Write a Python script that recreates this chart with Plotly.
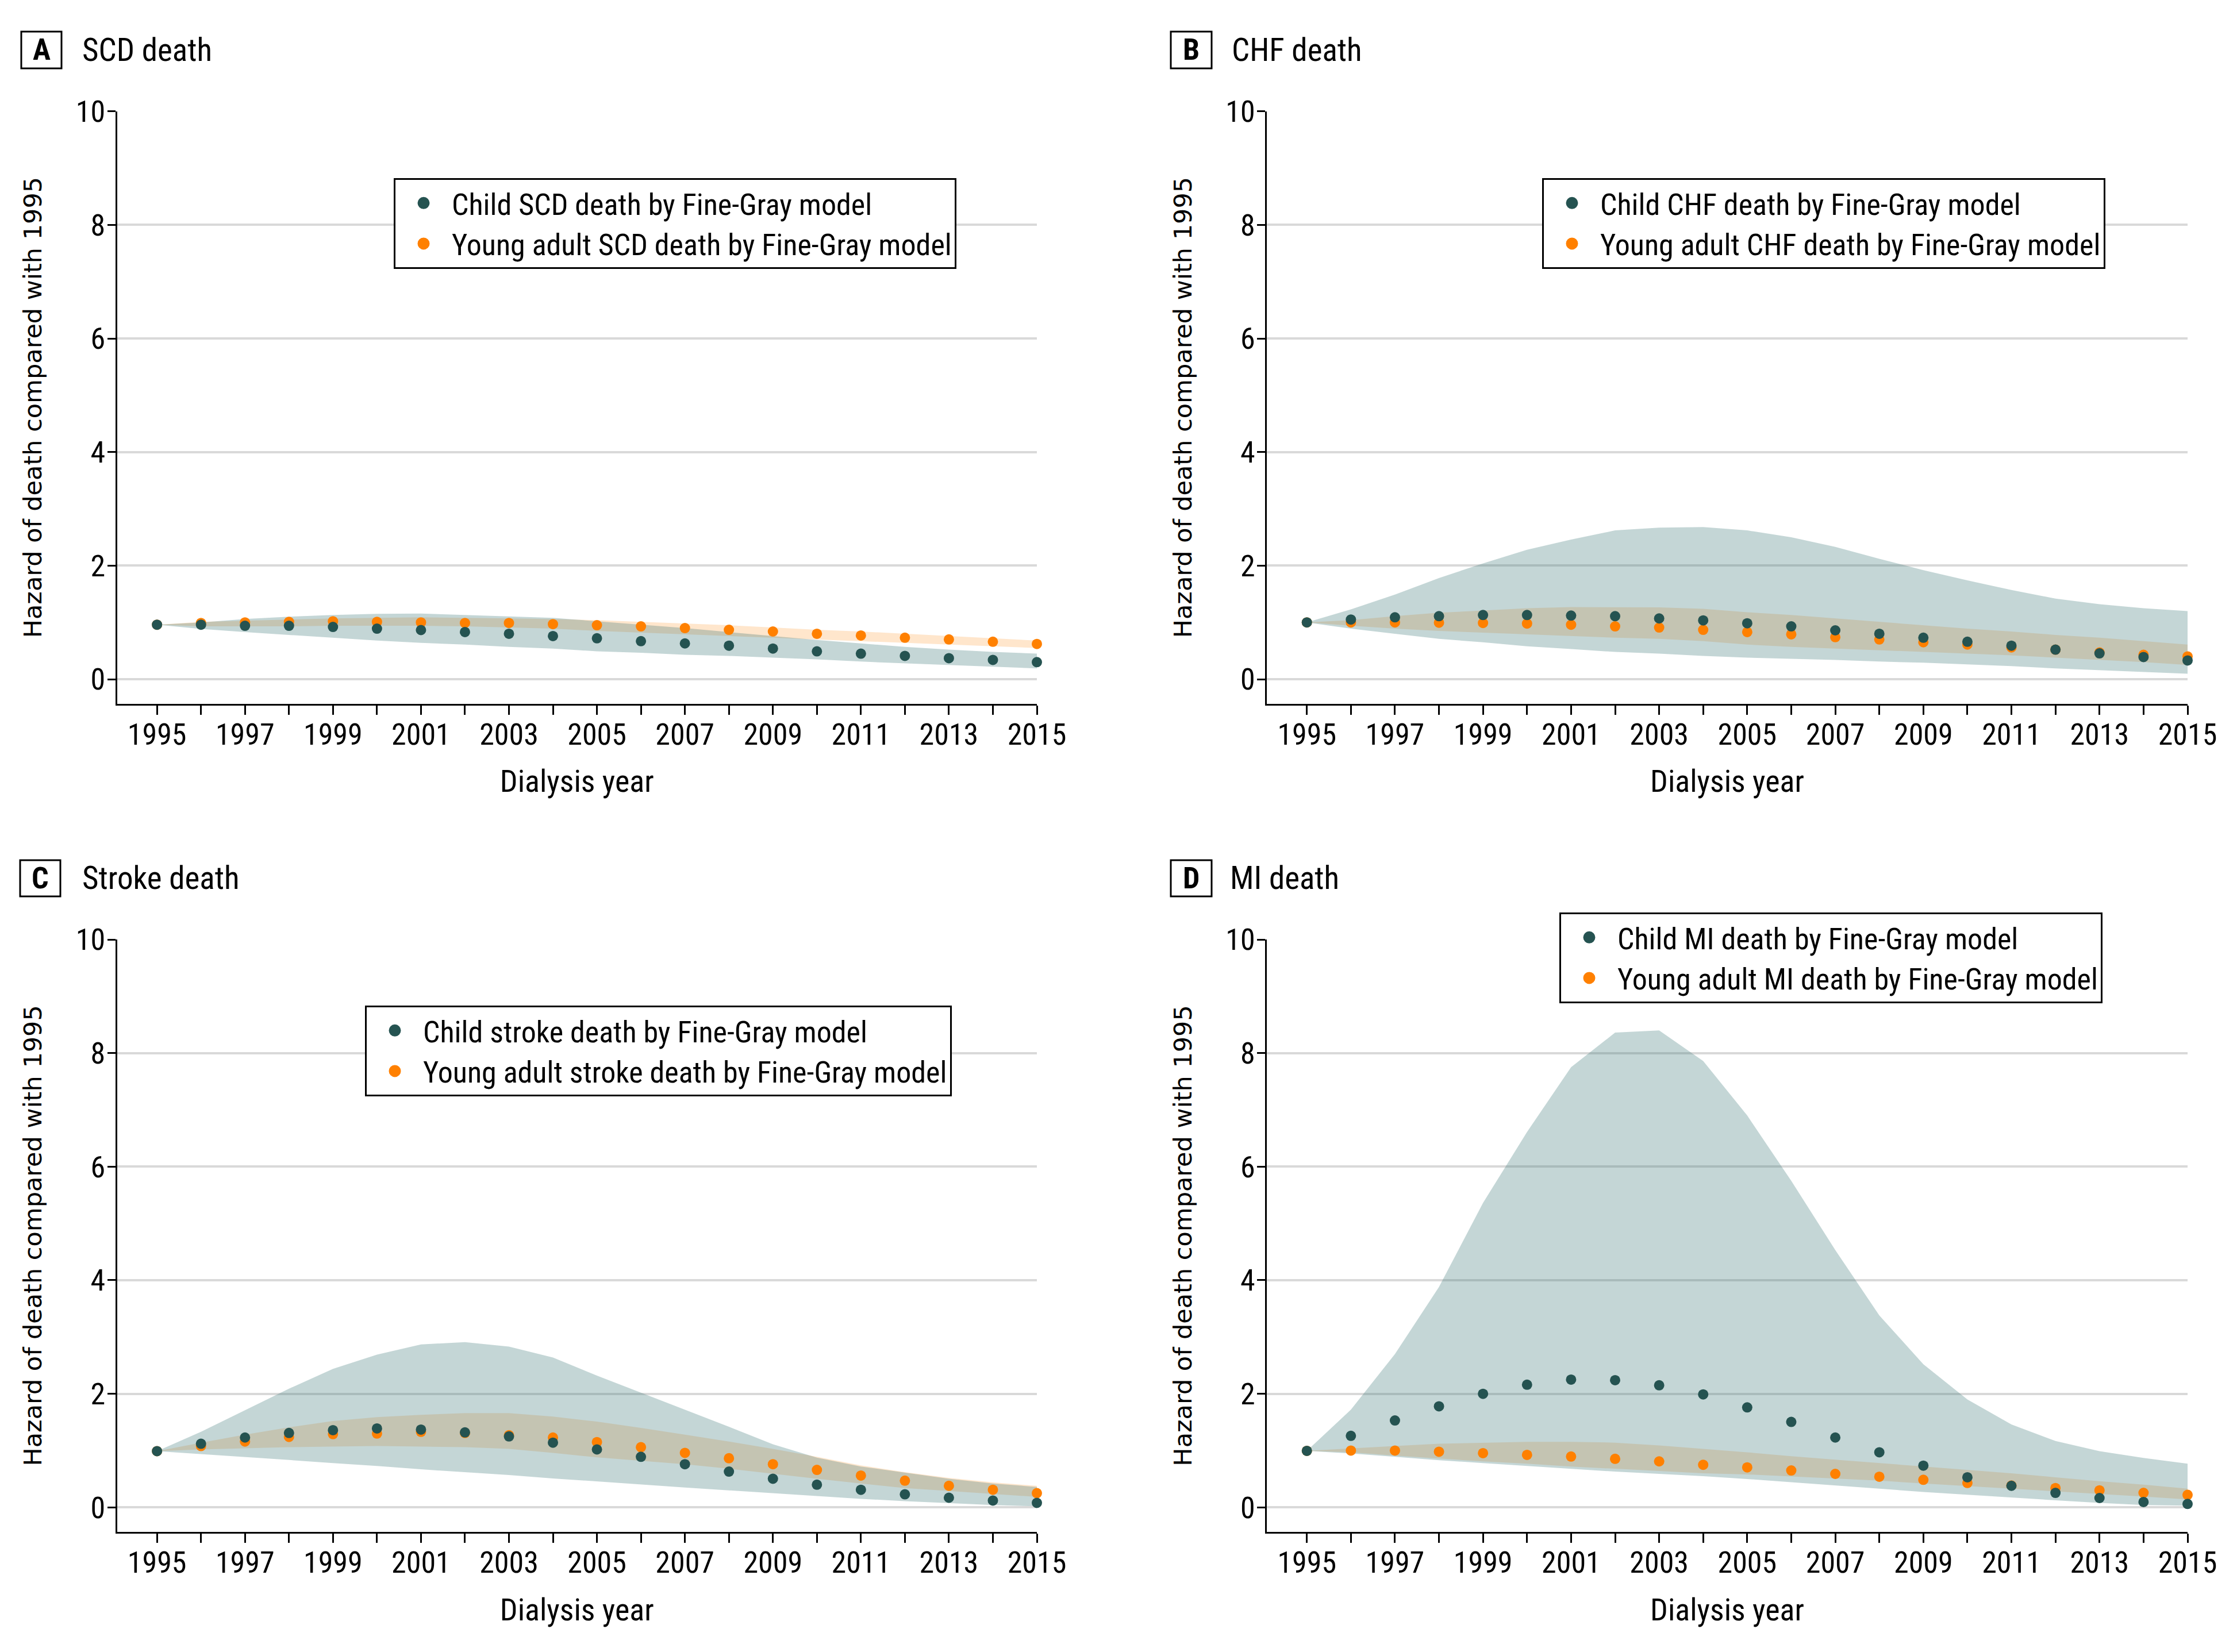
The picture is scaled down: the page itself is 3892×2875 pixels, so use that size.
import plotly.graph_objects as go

# ---------------- data ----------------
years = list(range(1995, 2016))
tick_text = [str(y) if y % 2 == 1 else "" for y in years]

scd_child = [0.96, 0.96, 0.94, 0.94, 0.92, 0.89, 0.865, 0.83, 0.80, 0.76, 0.72, 0.67, 0.63, 0.59, 0.54, 0.49, 0.45, 0.41, 0.37, 0.34, 0.30]
scd_child_lo = [0.96, 0.885, 0.83, 0.78, 0.73, 0.68, 0.64, 0.61, 0.57, 0.54, 0.49, 0.465, 0.43, 0.41, 0.38, 0.35, 0.31, 0.28, 0.25, 0.225, 0.19]
scd_child_hi = [0.96, 1.0, 1.06, 1.10, 1.13, 1.15, 1.155, 1.13, 1.11, 1.08, 1.02, 0.96, 0.90, 0.83, 0.76, 0.69, 0.63, 0.57, 0.52, 0.48, 0.45]
scd_young = [0.96, 0.99, 1.0, 1.01, 1.02, 1.01, 1.0, 0.99, 0.99, 0.97, 0.95, 0.93, 0.90, 0.87, 0.84, 0.80, 0.77, 0.73, 0.70, 0.66, 0.62]
scd_young_lo = [0.96, 0.93, 0.93, 0.93, 0.94, 0.94, 0.94, 0.93, 0.91, 0.89, 0.85, 0.82, 0.79, 0.76, 0.73, 0.70, 0.67, 0.64, 0.61, 0.58, 0.55]
scd_young_hi = [0.96, 1.01, 1.03, 1.05, 1.07, 1.08, 1.09, 1.08, 1.07, 1.06, 1.04, 1.01, 0.98, 0.95, 0.91, 0.87, 0.84, 0.80, 0.76, 0.72, 0.68]

chf_child = [1.00, 1.05, 1.09, 1.11, 1.13, 1.13, 1.12, 1.11, 1.07, 1.035, 0.985, 0.93, 0.86, 0.80, 0.73, 0.66, 0.59, 0.52, 0.455, 0.39, 0.33]
chf_child_lo = [1.00, 0.89, 0.80, 0.71, 0.65, 0.58, 0.53, 0.48, 0.45, 0.41, 0.38, 0.36, 0.34, 0.31, 0.29, 0.26, 0.23, 0.19, 0.16, 0.13, 0.095]
chf_child_hi = [1.00, 1.23, 1.49, 1.78, 2.04, 2.28, 2.46, 2.62, 2.67, 2.68, 2.62, 2.50, 2.33, 2.12, 1.92, 1.74, 1.57, 1.42, 1.32, 1.25, 1.20]
chf_young = [1.00, 1.00, 1.00, 0.995, 0.99, 0.98, 0.96, 0.93, 0.91, 0.87, 0.83, 0.79, 0.74, 0.70, 0.65, 0.61, 0.56, 0.52, 0.47, 0.43, 0.40]
chf_young_lo = [1.00, 0.94, 0.89, 0.85, 0.82, 0.79, 0.76, 0.73, 0.71, 0.67, 0.61, 0.57, 0.54, 0.51, 0.48, 0.45, 0.42, 0.38, 0.34, 0.30, 0.25]
chf_young_hi = [1.00, 1.04, 1.11, 1.17, 1.21, 1.25, 1.27, 1.27, 1.265, 1.24, 1.18, 1.13, 1.07, 1.01, 0.95, 0.89, 0.84, 0.78, 0.73, 0.67, 0.61]

stroke_child = [0.99, 1.12, 1.23, 1.31, 1.36, 1.39, 1.37, 1.32, 1.25, 1.14, 1.02, 0.89, 0.76, 0.63, 0.505, 0.40, 0.31, 0.23, 0.17, 0.12, 0.08]
stroke_child_lo = [0.99, 0.94, 0.89, 0.835, 0.78, 0.73, 0.67, 0.62, 0.57, 0.51, 0.455, 0.40, 0.35, 0.30, 0.25, 0.20, 0.15, 0.11, 0.075, 0.04, 0.02]
stroke_child_hi = [0.99, 1.33, 1.71, 2.09, 2.44, 2.69, 2.87, 2.91, 2.83, 2.64, 2.32, 2.02, 1.72, 1.42, 1.11, 0.875, 0.72, 0.61, 0.505, 0.42, 0.36]
stroke_young = [0.99, 1.08, 1.16, 1.24, 1.29, 1.30, 1.33, 1.31, 1.27, 1.23, 1.15, 1.06, 0.96, 0.865, 0.76, 0.66, 0.56, 0.47, 0.38, 0.31, 0.25]
stroke_young_lo = [0.99, 1.02, 1.04, 1.06, 1.07, 1.08, 1.07, 1.06, 1.03, 0.96, 0.88, 0.82, 0.76, 0.68, 0.59, 0.505, 0.42, 0.34, 0.29, 0.24, 0.185]
stroke_young_hi = [0.99, 1.14, 1.28, 1.41, 1.52, 1.59, 1.63, 1.66, 1.66, 1.60, 1.51, 1.40, 1.28, 1.16, 1.03, 0.89, 0.74, 0.62, 0.52, 0.44, 0.38]

mi_child = [0.995, 1.26, 1.53, 1.78, 2.00, 2.16, 2.25, 2.24, 2.15, 1.99, 1.76, 1.505, 1.23, 0.97, 0.735, 0.53, 0.38, 0.255, 0.165, 0.095, 0.06]
mi_child_lo = [0.995, 0.95, 0.89, 0.83, 0.78, 0.73, 0.68, 0.63, 0.59, 0.55, 0.50, 0.445, 0.385, 0.33, 0.27, 0.22, 0.17, 0.125, 0.08, 0.04, 0.03]
mi_child_hi = [0.995, 1.72, 2.70, 3.88, 5.36, 6.61, 7.75, 8.36, 8.40, 7.86, 6.90, 5.75, 4.53, 3.38, 2.52, 1.90, 1.46, 1.17, 0.99, 0.87, 0.77]
mi_young = [0.995, 1.00, 1.00, 0.98, 0.955, 0.925, 0.895, 0.855, 0.81, 0.75, 0.705, 0.65, 0.59, 0.54, 0.485, 0.43, 0.385, 0.34, 0.30, 0.255, 0.22]
mi_young_lo = [0.995, 0.97, 0.91, 0.86, 0.81, 0.77, 0.72, 0.68, 0.64, 0.60, 0.58, 0.545, 0.51, 0.47, 0.42, 0.375, 0.33, 0.28, 0.235, 0.19, 0.14]
mi_young_hi = [0.995, 1.04, 1.08, 1.12, 1.14, 1.155, 1.155, 1.14, 1.09, 1.03, 0.97, 0.90, 0.84, 0.78, 0.72, 0.66, 0.60, 0.53, 0.46, 0.40, 0.33]

panel_letters = ["A", "B", "C", "D"]
panel_titles = ["SCD death", "CHF death", "Stroke death", "MI death"]
panel_causes = ["SCD", "CHF", "stroke", "MI"]
y_ticks = [0, 2, 4, 6, 8, 10]

# ---------------- style ----------------
W, H = 3892, 2875
PAGE_OFF = 8  # default body margin of the html page
COND = "Liberation Sans Narrow, Roboto Condensed, Arial Narrow, Liberation Sans, sans-serif"
WIDE = "DejaVu Sans, Verdana, sans-serif"
CHILD_COL = "#255351"
YOUNG_COL = "#FF8000"
CHILD_FILL = "rgba(60,120,120,0.30)"
YOUNG_FILL = "rgba(255,128,0,0.20)"


def px(x):
    return (x - PAGE_OFF) / W


def py(y):
    return 1 - (y - PAGE_OFF) / H


panels = [
    dict(child=scd_child, clo=scd_child_lo, chi=scd_child_hi, young=scd_young, ylo=scd_young_lo, yhi=scd_young_hi,
         xdom=[px(203.5), px(1804)], ydom=[py(1224.5), py(193.7)], leg=(px(685), py(310)), legw=1000,
         box=(37, 55, 107, 119), title_x=141),
    dict(child=chf_child, clo=chf_child_lo, chi=chf_child_hi, young=chf_young, ylo=chf_young_lo, yhi=chf_young_hi,
         xdom=[px(2204), px(3806)], ydom=[py(1224.5), py(193.7)], leg=(px(2683), py(310)), legw=1008,
         box=(2037, 55, 2108, 119), title_x=2141),
    dict(child=stroke_child, clo=stroke_child_lo, chi=stroke_child_hi, young=stroke_young, ylo=stroke_young_lo, yhi=stroke_young_hi,
         xdom=[px(203.5), px(1804)], ydom=[py(2665.8), py(1635)], leg=(px(635), py(1750)), legw=1050,
         box=(35, 1497, 105, 1560), title_x=141),
    dict(child=mi_child, clo=mi_child_lo, chi=mi_child_hi, young=mi_young, ylo=mi_young_lo, yhi=mi_young_hi,
         xdom=[px(2204), px(3806)], ydom=[py(2665.8), py(1635)], leg=(px(2713), py(1588)), legw=978,
         box=(2037, 1497, 2108, 1560), title_x=2138),
]

fig = go.Figure()
layout = dict(width=W, height=H, autosize=False, margin=dict(l=0, r=0, t=0, b=0),
              paper_bgcolor="white", plot_bgcolor="white", shapes=[], annotations=[])

for i, p in enumerate(panels):
    n = i + 1
    sfx = "" if n == 1 else str(n)
    xa, ya = "x" + sfx, "y" + sfx
    legname = "legend" + sfx
    cause = panel_causes[i]

    # legend entries (child first, then young adult)
    fig.add_trace(go.Scatter(x=[None], y=[None], xaxis=xa, yaxis=ya, mode="markers",
                             marker=dict(size=16, color=CHILD_COL, line=dict(width=5, color=CHILD_COL)),
                             name=f"Child {cause} death by Fine-Gray model", legend=legname, showlegend=True))
    fig.add_trace(go.Scatter(x=[None], y=[None], xaxis=xa, yaxis=ya, mode="markers",
                             marker=dict(size=16, color=YOUNG_COL, line=dict(width=5, color=YOUNG_COL)),
                             name=f"Young adult {cause} death by Fine-Gray model", legend=legname, showlegend=True))

    # young adult CI band
    fig.add_trace(go.Scatter(x=years, y=p["ylo"], xaxis=xa, yaxis=ya, mode="lines",
                             line=dict(width=0, color=YOUNG_FILL), showlegend=False, hoverinfo="skip", legend=legname))
    fig.add_trace(go.Scatter(x=years, y=p["yhi"], xaxis=xa, yaxis=ya, mode="lines",
                             line=dict(width=0, color=YOUNG_FILL), fill="tonexty", fillcolor=YOUNG_FILL,
                             showlegend=False, hoverinfo="skip", legend=legname))
    # child CI band
    fig.add_trace(go.Scatter(x=years, y=p["clo"], xaxis=xa, yaxis=ya, mode="lines",
                             line=dict(width=0, color=CHILD_FILL), showlegend=False, hoverinfo="skip", legend=legname))
    fig.add_trace(go.Scatter(x=years, y=p["chi"], xaxis=xa, yaxis=ya, mode="lines",
                             line=dict(width=0, color=CHILD_FILL), fill="tonexty", fillcolor=CHILD_FILL,
                             showlegend=False, hoverinfo="skip", legend=legname))
    # points
    fig.add_trace(go.Scatter(x=years, y=p["young"], xaxis=xa, yaxis=ya, mode="markers",
                             marker=dict(size=18, color=YOUNG_COL), cliponaxis=False, showlegend=False,
                             name=f"Young adult {cause} death by Fine-Gray model", legend=legname))
    fig.add_trace(go.Scatter(x=years, y=p["child"], xaxis=xa, yaxis=ya, mode="markers",
                             marker=dict(size=18, color=CHILD_COL), cliponaxis=False, showlegend=False,
                             name=f"Child {cause} death by Fine-Gray model", legend=legname))

    layout["xaxis" + sfx] = dict(
        domain=p["xdom"], anchor=ya, range=[1994.09, 2015], tickmode="array", tickvals=years, ticktext=tick_text,
        showline=True, linecolor="black", linewidth=3, ticks="outside", ticklen=16, tickwidth=3, tickcolor="black",
        ticklabelstandoff=-10,
        showgrid=False, zeroline=False, tickfont=dict(family=COND, size=52, color="black"),
        title=dict(text="Dialysis year", font=dict(family=COND, size=54, color="black"), standoff=33),
        automargin=False, fixedrange=True)
    layout["yaxis" + sfx] = dict(
        domain=p["ydom"], anchor=xa, range=[-0.43, 10], tickmode="array", tickvals=y_ticks,
        showline=True, linecolor="black", linewidth=3, ticks="outside", ticklen=14, tickwidth=3, tickcolor="black",
        ticklabelstandoff=-7,
        showgrid=True, gridcolor="#d9d9d9", gridwidth=4, zeroline=False,
        tickfont=dict(family=COND, size=52, color="black"),
        title=dict(text="Hazard of death compared with 1995", font=dict(family=WIDE, size=43, color="black"), standoff=46),
        automargin=False, fixedrange=True)
    layout[legname] = dict(x=p["leg"][0], y=p["leg"][1], xanchor="left", yanchor="top", xref="paper", yref="paper",
                           bgcolor="white", bordercolor="black", borderwidth=3, traceorder="normal",
                           font=dict(family=COND, size=52, color="black"), itemwidth=88, tracegroupgap=0,
                           entrywidthmode="pixels", entrywidth=p["legw"] - 10)

    bx0, by0, bx1, by1 = p["box"]
    layout["shapes"].append(dict(type="rect", xref="paper", yref="paper", x0=px(bx0), x1=px(bx1),
                                 y0=py(by1), y1=py(by0), line=dict(color="black", width=3), fillcolor="white"))
    layout["annotations"].append(dict(text="<b>" + panel_letters[i] + "</b>", xref="paper", yref="paper",
                                      x=px((bx0 + bx1) / 2), y=py((by0 + by1) / 2), xanchor="center", yanchor="middle",
                                      showarrow=False, font=dict(family=COND, size=52, color="black")))
    layout["annotations"].append(dict(text=panel_titles[i], xref="paper", yref="paper",
                                      x=px(p["title_x"]), y=py((by0 + by1) / 2), xanchor="left", yanchor="middle",
                                      showarrow=False, font=dict(family=COND, size=55, color="black")))

fig.update_layout(**layout)
fig.write_html("out.html")
